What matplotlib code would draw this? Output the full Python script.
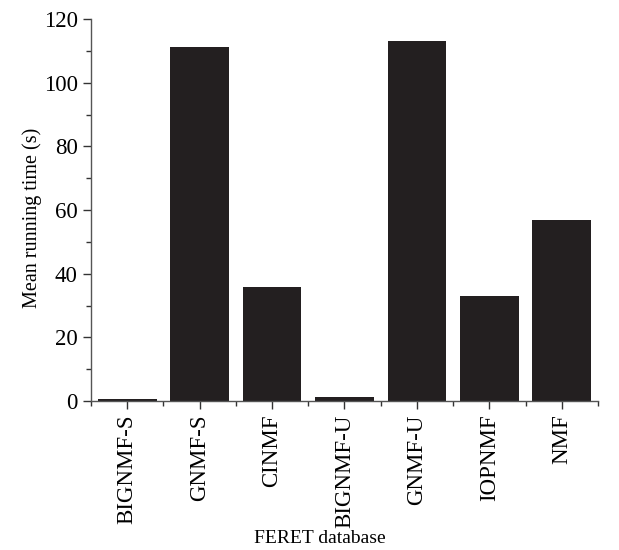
import matplotlib.pyplot as plt
from matplotlib.ticker import MultipleLocator

plt.rcParams['font.family'] = ['Liberation Serif', 'DejaVu Serif']

methods = ['BIGNMF-S', 'GNMF-S', 'CINMF', 'BIGNMF-U', 'GNMF-U', 'IOPNMF', 'NMF']
running_time = [0.7, 111.3, 35.8, 1.3, 113.2, 33.0, 57.0]

fig = plt.figure(figsize=(6.19, 5.5), dpi=100)
ax = fig.add_axes([0.147, 0.271, 0.819, 0.694])

x = list(range(len(methods)))
ax.bar(x, running_time, width=0.81, color='#231f20')

ax.set_xlim(-0.5, len(methods) - 0.5)
ax.set_ylim(0, 120)
ax.set_xticks(x)
ax.set_xticklabels(methods, rotation=90, fontsize=16.5)
ax.set_xticks([i + 0.5 for i in range(-1, len(methods))], minor=True)
ax.yaxis.set_major_locator(MultipleLocator(20))
ax.yaxis.set_minor_locator(MultipleLocator(10))
ax.tick_params(axis='y', labelsize=16.5)

for s in ['top', 'right']:
    ax.spines[s].set_visible(False)
for s in ['left', 'bottom']:
    ax.spines[s].set_color('#555555')
    ax.spines[s].set_linewidth(1.0)

ax.tick_params(which='major', direction='out', length=6, width=1, color='#333333')
ax.tick_params(which='minor', direction='out', length=3.5, width=1, color='#333333')

ax.set_ylabel('Mean running time (s)', fontsize=14.5)
ax.set_xlabel('FERET database', fontsize=14)
ax.yaxis.set_label_coords(-0.097, 0.479)
ax.xaxis.set_label_coords(0.452, -0.338)

fig.savefig('out.png', dpi=100)
